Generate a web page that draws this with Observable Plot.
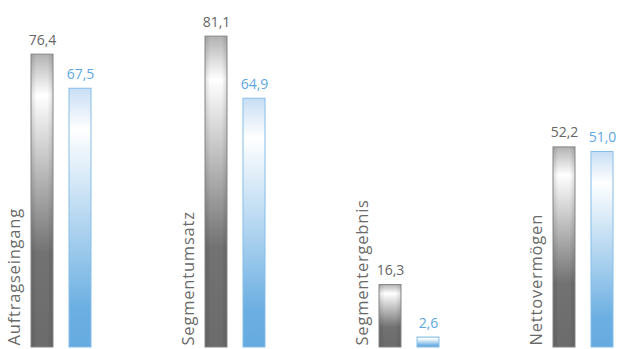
<!DOCTYPE html>
<html>
<head>
<meta charset="utf-8">
<script src="https://cdn.jsdelivr.net/npm/d3@7"></script>
<script src="https://cdn.jsdelivr.net/npm/@observablehq/plot@0.6"></script>
<style>
  html, body { margin: 0; padding: 0; background: #fff; }
  #chart svg { display: block; }
  .catlabel text { letter-spacing: 0.8px; }
</style>
</head>
<body>
<div id="chart"></div>
<script>
const categories = ["Auftragseingang", "Segmentumsatz", "Segmentergebnis", "Nettovermögen"];
const series = ["Aktuell", "Vorjahr"];
const currentValues = [76.4, 81.1, 16.3, 52.2];
const priorValues = [67.5, 64.9, 2.6, 51.0];

const rows = [];
categories.forEach((c, i) => {
  rows.push({cat: c, series: series[0], value: currentValues[i]});
  rows.push({cat: c, series: series[1], value: priorValues[i]});
});
const fmt = d => d.value.toFixed(1).replace(".", ",");
const grayRows = rows.filter(d => d.series === series[0]);
const blueRows = rows.filter(d => d.series === series[1]);

const font = "'Open Sans', sans-serif";

const svg = Plot.plot({
  width: 621,
  height: 349,
  marginTop: 2,
  marginBottom: 2,
  marginLeft: 30,
  marginRight: 7,
  style: {fontFamily: font, background: "white"},
  fx: {domain: categories, paddingInner: 0.65, paddingOuter: 0, axis: null},
  x: {domain: series, paddingInner: 0.416, paddingOuter: 0, axis: null},
  y: {domain: [0, 90], axis: null},
  marks: [
    Plot.barY(grayRows, {fx: "cat", x: "series", y: "value", fill: "url(#gradGray)"}),
    Plot.barY(grayRows, {fx: "cat", x: "series", y: "value", fill: "url(#gradEdge)", stroke: "#868686", strokeWidth: 1}),
    Plot.barY(blueRows, {fx: "cat", x: "series", y: "value", fill: "url(#gradBlue)", stroke: "#86bdea", strokeWidth: 1}),
    Plot.text(grayRows, {fx: "cat", x: "series", y: "value", text: fmt, dy: -10, lineAnchor: "bottom", fill: "#666666", fontSize: 14}),
    Plot.text(blueRows, {fx: "cat", x: "series", y: "value", text: fmt, dy: -10, lineAnchor: "bottom", fill: "#5ea7e2", fontSize: 14}),
    Plot.text(categories, {fx: d => d, x: () => series[0], y: () => 0, text: d => d, rotate: -90, textAnchor: "start", dx: -28, dy: -2, fill: "#6a6a6a", fontSize: 16.5, className: "catlabel"})
  ]
});

const defs = d3.select(svg).insert("defs", ":first-child");
const g1 = defs.append("linearGradient").attr("id", "gradGray").attr("x1", 0).attr("y1", 0).attr("x2", 0).attr("y2", 1);
[[0, "#b2b2b2"], [0.14, "#ffffff"], [0.68, "#727272"], [1, "#6b6b6b"]].forEach(([o, c]) => g1.append("stop").attr("offset", o).attr("stop-color", c));
const g2 = defs.append("linearGradient").attr("id", "gradBlue").attr("x1", 0).attr("y1", 0).attr("x2", 0).attr("y2", 1);
[[0, "#c8def4"], [0.16, "#ffffff"], [0.85, "#6cafe2"], [1, "#66abe0"]].forEach(([o, c]) => g2.append("stop").attr("offset", o).attr("stop-color", c));
const g3 = defs.append("linearGradient").attr("id", "gradEdge").attr("x1", 0).attr("y1", 0).attr("x2", 1).attr("y2", 0);
[[0, "rgba(0,0,0,0.12)"], [0.25, "rgba(0,0,0,0)"], [0.75, "rgba(0,0,0,0)"], [1, "rgba(0,0,0,0.12)"]].forEach(([o, c]) => {
  const col = d3.color(c);
  g3.append("stop").attr("offset", o).attr("stop-color", "#000").attr("stop-opacity", col.opacity);
});

document.getElementById("chart").appendChild(svg);
</script>
</body>
</html>
